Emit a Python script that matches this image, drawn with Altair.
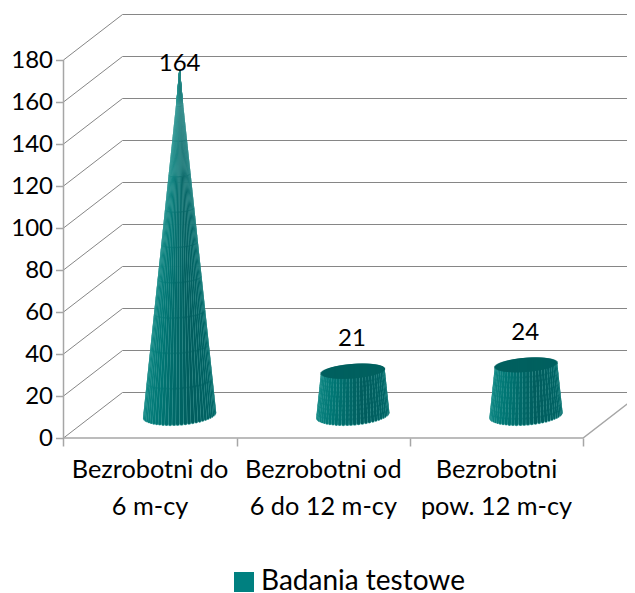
import math
import altair as alt
import pandas as pd

# ---- chart values
categories = ["Bezrobotni do\n6 m-cy", "Bezrobotni od\n6 do 12 m-cy", "Bezrobotni\npow. 12 m-cy"]
values = [164, 21, 24]
series_name = "Badania testowe"
y_ticks = [0, 20, 40, 60, 80, 100, 120, 140, 160, 180]
x_ticks = [0, 1, 2, 3]

# ---- page / projection set-up (one x unit = one category, y unit = chart value)
W, H = 619, 585
PX_X, PX_Y = 173.2, 2.1
X0_PAGE, Y0_PAGE = 63.5, 438.0
x_dom = [(8 - X0_PAGE) / PX_X, (8 + W - X0_PAGE) / PX_X]
y_dom = [(Y0_PAGE - 8 - H) / PX_Y, (Y0_PAGE - 8) / PX_Y]
DX, DY = 59 / PX_X, 45.5 / PX_Y          # oblique depth of the floor
R, S, E = 34.7 / PX_X, 11.3 / PX_X, 8.75 / PX_Y   # cone base ellipse
N = 30
SEGMENTS = 10
FONT = "Lato"
GRID = "#868686"
AXIS = "#a6a6a6"

xs = alt.Scale(domain=x_dom, nice=False, zero=False)
ys = alt.Scale(domain=y_dom, nice=False, zero=False)
x_axis = alt.Axis(values=x_ticks, offset=-(8 + H - Y0_PAGE), labels=False, domain=False, grid=False, title=None,
                  ticks=True, tickSize=8, tickColor=AXIS, tickWidth=1.5)
y_axis = alt.Axis(values=y_ticks, offset=-(X0_PAGE - 8), domain=False, grid=False, title=None, tickSize=8,
                  tickColor=AXIS, tickWidth=1.5, labelFont=FONT, labelFontSize=24, labelColor="#000000",
                  labelPadding=3)
X = alt.X("x:Q", scale=xs, axis=x_axis)
Y = alt.Y("y:Q", scale=ys, axis=y_axis, stack=None)


def lerp_rgb(t):
    stops = [(0, (0x14, 0x8c, 0x88)), (.3, (0x00, 0x76, 0x74)), (.6, (0x00, 0x5c, 0x5d)),
             (.85, (0x00, 0x64, 0x65)), (1, (0x08, 0x72, 0x70))]
    for (a, ca), (b, cb) in zip(stops, stops[1:]):
        if t <= b:
            u = (t - a) / (b - a)
            return tuple(p + (q - p) * u for p, q in zip(ca, cb))
    return stops[-1][1]


def shade(t, light):
    """Colour of a slice at angle fraction t, faded toward the pale seam colour near the apex."""
    pale = (0x5f, 0xb5, 0xb2)
    return "#%02x%02x%02x" % tuple(round(p + (q - p) * light) for p, q in zip(lerp_rgb(t), pale))


# ---- grid and floor
grid_rows, gid = [], 0
for v in y_ticks:
    for k, (px, py) in enumerate([(0, v), (DX, v + DY), (x_dom[1] + 1, v + DY)]):
        grid_rows.append({"x": px, "y": py, "g": gid, "k": k})
    gid += 1
grid = alt.Chart(pd.DataFrame(grid_rows)).mark_line(color=GRID, strokeWidth=1, clip=True).encode(
    x=X, y=Y, detail="g:N", order="k:Q")

frame_rows = [
    {"x": 0, "y": 0, "g": 0, "k": 0}, {"x": 3, "y": 0, "g": 0, "k": 1}, {"x": 3 + DX, "y": DY, "g": 0, "k": 2},
    {"x": 0, "y": 0, "g": 1, "k": 0}, {"x": 0, "y": 180, "g": 1, "k": 1},
]
frame = alt.Chart(pd.DataFrame(frame_rows)).mark_line(color=AXIS, strokeWidth=1.5, clip=True).encode(
    x=X, y=Y, detail="g:N", order="k:Q")

# ---- cones
body_rows, top_rows = [], []
t0 = math.atan2(S, R)
XT = math.hypot(R, S)
dth = math.pi / N
vmax = max(values)
sid = 0
for i, v in enumerate(values):
    cx, cy = i + .5 + DX / 2, DY / 2
    f = 1 - v / vmax
    for p in range(2):
        for n in range(N):
            th = math.pi + t0 + (n + .5) * dth
            w = abs(-R * math.sin(th) + S * math.cos(th)) * dth * PX_X + .25
            fac = .82 if p else 1.1
            for seg in range(SEGMENTS):
                h0, h1 = v * seg / SEGMENTS, v * (seg + 1) / SEGMENTS
                light = .4 * (((h0 + h1) / 2) / vmax) ** 3
                c = shade((n + .5) / N, light) if p else "#4fa8a5"
                for k, yy in enumerate([h0, h1]):
                    ff = 1 - yy / vmax
                    body_rows.append({"x": cx + ff * (R * math.cos(th) + S * math.sin(th)),
                                      "y": cy + yy + ff * E * math.sin(th),
                                      "w": w * ff * fac, "c": c, "s": sid, "k": k})
                sid += 1
    if f > 0:
        for m in range(61):
            ph = math.acos(max(-1, min(1, -1 + 2 * (m + .5) / 61)))
            top_rows.append({"x": cx + f * XT * math.cos(ph),
                             "y": cy + v + f * E * math.sin(t0 + ph),
                             "y2": cy + v + f * E * math.sin(t0 - ph)})

body = alt.Chart(pd.DataFrame(body_rows)).mark_trail(clip=True).encode(
    x=X, y=Y, size=alt.Size("w:Q", scale=None, legend=None),
    fill=alt.Fill("c:N", scale=None, legend=None), detail="s:N", order="k:Q")
tops = alt.Chart(pd.DataFrame(top_rows)).mark_rule(color="#00605f", strokeWidth=2).encode(
    x=X, y=Y, y2=alt.Y2("y2:Q"))

# ---- value labels
label_rows = []
for i, v in enumerate(values):
    gap = 0 if v == vmax else 25 / PX_Y
    label_rows.append({"x": i + .5 + DX / 2 - (0.0 if i == 0 else .005), "y": DY / 2 + v + gap, "t": str(v)})
vlabels = alt.Chart(pd.DataFrame(label_rows)).mark_text(
    font=FONT, fontSize=24, color="#000000", baseline="alphabetic", align="center").encode(x=X, y=Y, text="t:N")

# ---- category labels
cat_rows = [{"x": i + .5, "y": (Y0_PAGE - 478) / PX_Y, "t": c} for i, c in enumerate(categories)]
clabels = alt.Chart(pd.DataFrame(cat_rows)).mark_text(
    font=FONT, fontSize=25.3, color="#000000", baseline="alphabetic", align="center",
    lineBreak="\n", lineHeight=37).encode(x=X, y=Y, text="t:N")

# ---- legend
legend = alt.Chart(pd.DataFrame([{"x": 0, "y": 0, "n": series_name}])).mark_square(size=0).encode(
    x=X, y=Y,
    color=alt.Color("n:N", scale=alt.Scale(domain=[series_name], range=["#008080"]),
                    legend=alt.Legend(title=None, orient="none", legendX=222, legendY=560, symbolType="square",
                                      symbolSize=400, symbolOpacity=1, symbolStrokeWidth=0, labelFont=FONT,
                                      labelFontSize=28, labelColor="#000000", labelOffset=3, labelLimit=400)))

chart = alt.layer(grid, frame, body, tops, vlabels, clabels, legend).properties(
    width=W, height=H, padding=0, background="#ffffff",
    autosize=alt.AutoSizeParams(type="none", contains="padding")).configure_view(stroke=None)

chart.save("out.html", embed_options={"renderer": "svg", "actions": False})
